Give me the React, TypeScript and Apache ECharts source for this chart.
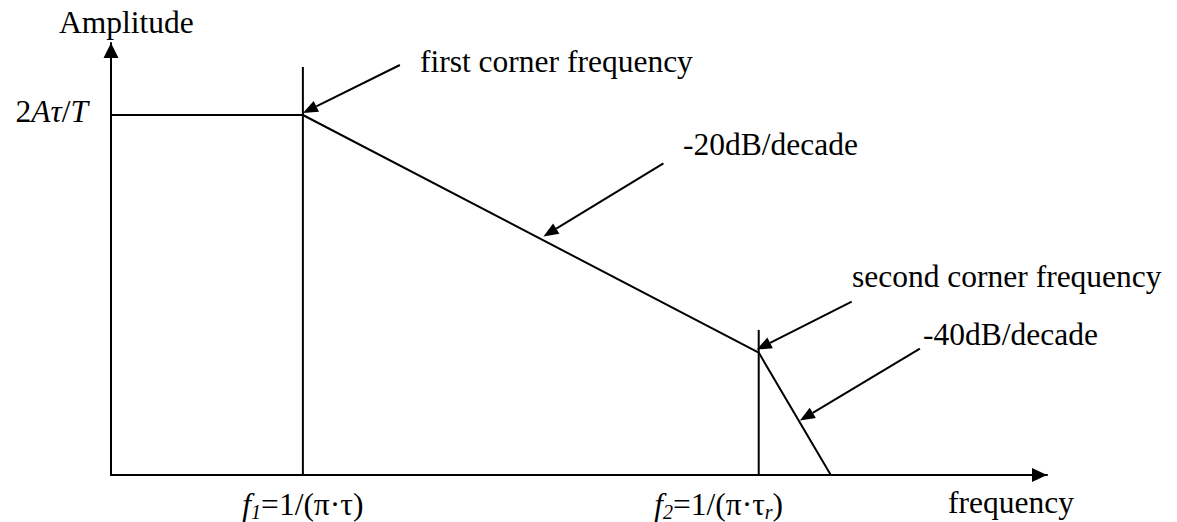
import { useEffect, useRef } from "react";
import * as echarts from "echarts";

// Asymptotic amplitude spectrum of a trapezoidal pulse train.
// Frequency is on a log-like scale (arbitrary decades); amplitude is normalised to 2Aτ/T = 1.
const cornerNames = ["f1", "f2"];
const cornerFreq = [2.05, 6.92];
const cornerMarkTop = [1.133, 0.403];
const responseFreq = [0, 2.05, 6.92, 7.69];
const responseAmp = [1.0, 1.0, 0.34, 0];
const levelTicks = [1.0];

// Annotated features: text and the frequency the arrow points at
const noteLabels = ["first corner frequency", "-20dB/decade", "second corner frequency", "-40dB/decade"];
const noteFreq = [2.05, 4.62, 6.92, 7.36];

const FONT = "'Liberation Serif', 'Times New Roman', serif";
const FS = 31.5;
const INK = "#000";

function ampAt(f: number): number {
  for (let i = 0; i < responseFreq.length - 1; i++) {
    const a = responseFreq[i];
    const b = responseFreq[i + 1];
    if (f >= a && f <= b) {
      const t = (f - a) / (b - a);
      return responseAmp[i] + t * (responseAmp[i + 1] - responseAmp[i]);
    }
  }
  return 0;
}

export default function App() {
  const ref = useRef<HTMLDivElement>(null);

  useEffect(() => {
    const chart = echarts.init(ref.current!, null, { renderer: "svg" });

    const rich = {
      n: { fontFamily: FONT, fontSize: FS, color: INK, lineHeight: 36 },
      i: { fontFamily: FONT, fontSize: FS, fontStyle: "italic", color: INK, lineHeight: 36 },
      s: { fontFamily: FONT, fontSize: 20, fontStyle: "italic", color: INK, lineHeight: 20, verticalAlign: "bottom" },
      gap: { fontFamily: FONT, fontSize: FS, width: 80, lineHeight: 36 },
    };

    const axisLineStyle = { color: INK, width: 2 };

    const option: any = {
      animation: false,
      backgroundColor: "#fff",
      grid: { left: 111, right: 130, top: 43, bottom: 47, containLabel: false },
      xAxis: {
        type: "value",
        min: 0,
        max: 10,
        splitLine: { show: false },
        axisTick: { show: false },
        axisLine: {
          lineStyle: axisLineStyle,
          symbol: ["none", "triangle"],
          symbolSize: [14, 15],
          symbolOffset: [0, -7.5],
        },
        axisLabel: {
          customValues: cornerFreq,
          margin: 11,
          fontFamily: FONT,
          fontSize: FS,
          color: INK,
          rich,
          formatter: (v: number) => {
            const idx = cornerFreq.findIndex((c) => Math.abs(c - v) < 1e-6);
            if (cornerNames[idx] === "f1") return "{i|f}{s|1}{n|=1/(π·τ)}";
            return "{i|f}{s|2}{n|=1/(π·τ}{s|r}{n|)}{gap| }";
          },
        },
      },
      yAxis: {
        type: "value",
        min: 0,
        max: 1.2,
        splitLine: { show: false },
        axisTick: { show: false },
        axisLine: {
          lineStyle: axisLineStyle,
          symbol: ["none", "triangle"],
          symbolSize: [15, 15],
          symbolOffset: [0, -7.5],
        },
        axisLabel: {
          customValues: levelTicks,
          margin: 23,
          fontFamily: FONT,
          fontSize: FS,
          color: INK,
          padding: [0, 0, 7, 0],
          rich,
          formatter: () => "{n|2}{i|Aτ}{n|/}{i|T}",
        },
      },
      series: [
        {
          type: "line",
          name: "asymptote",
          data: responseFreq.map((f, i) => [f, responseAmp[i]]),
          symbol: "none",
          silent: true,
          lineStyle: { color: INK, width: 2 },
        },
        ...cornerFreq.map((f, i) => ({
          type: "line",
          name: cornerNames[i],
          data: [
            [f, 0],
            [f, cornerMarkTop[i]],
          ],
          symbol: "none",
          silent: true,
          lineStyle: { color: INK, width: 2 },
        })),
      ],
    };

    chart.setOption(option);

    // Annotation arrows: head lands on the response curve, tail offset in pixels
    const arrowLayout = [
      { shift: [0, -2], tail: [97, -48] },
      { shift: [0, -4], tail: [120, -73] },
      { shift: [-2, -3], tail: [95, -48] },
      { shift: [0, -2], tail: [120, -72] },
    ];
    const textLayout = [
      { x: 420, base: 72 },
      { x: 683, base: 155 },
      { x: 852, base: 287 },
      { x: 923, base: 345 },
    ];
    const central = FS * 0.3375;
    const headLen = 15;
    const headW = 12;

    const graphics: any[] = [];
    noteFreq.forEach((f, i) => {
      const p = chart.convertToPixel({ gridIndex: 0 }, [f, ampAt(f)]) as number[];
      const tip = [p[0] + arrowLayout[i].shift[0], p[1] + arrowLayout[i].shift[1]];
      const tail = [tip[0] + arrowLayout[i].tail[0], tip[1] + arrowLayout[i].tail[1]];
      const dx = tip[0] - tail[0];
      const dy = tip[1] - tail[1];
      const len = Math.hypot(dx, dy);
      const ux = dx / len;
      const uy = dy / len;
      const bx = tip[0] - headLen * ux;
      const by = tip[1] - headLen * uy;
      const nx = -uy * (headW / 2);
      const ny = ux * (headW / 2);
      graphics.push({
        type: "line",
        silent: true,
        shape: { x1: tail[0], y1: tail[1], x2: bx, y2: by },
        style: { stroke: INK, lineWidth: 2 },
      });
      graphics.push({
        type: "polygon",
        silent: true,
        shape: {
          points: [
            [tip[0], tip[1]],
            [bx + nx, by + ny],
            [bx - nx, by - ny],
          ],
        },
        style: { fill: INK },
      });
      graphics.push({
        type: "text",
        silent: true,
        style: {
          text: noteLabels[i],
          x: textLayout[i].x,
          y: textLayout[i].base - central,
          fontFamily: FONT,
          fontSize: FS,
          fill: INK,
          align: "left",
          verticalAlign: "middle",
        },
      });
    });

    // Axis titles
    graphics.push({
      type: "text",
      silent: true,
      style: {
        text: "Amplitude",
        x: 59,
        y: 33 - central,
        fontFamily: FONT,
        fontSize: FS,
        fill: INK,
        align: "left",
        verticalAlign: "middle",
      },
    });
    graphics.push({
      type: "text",
      silent: true,
      style: {
        text: "frequency",
        x: 948,
        y: 513 - central,
        fontFamily: FONT,
        fontSize: FS,
        fill: INK,
        align: "left",
        verticalAlign: "middle",
      },
    });

    chart.setOption({ graphic: graphics });

    return () => chart.dispose();
  }, []);

  return (
    <div
      ref={ref}
      style={{ position: "absolute", left: 0, top: 0, width: 1177, height: 522, background: "#fff" }}
    />
  );
}
